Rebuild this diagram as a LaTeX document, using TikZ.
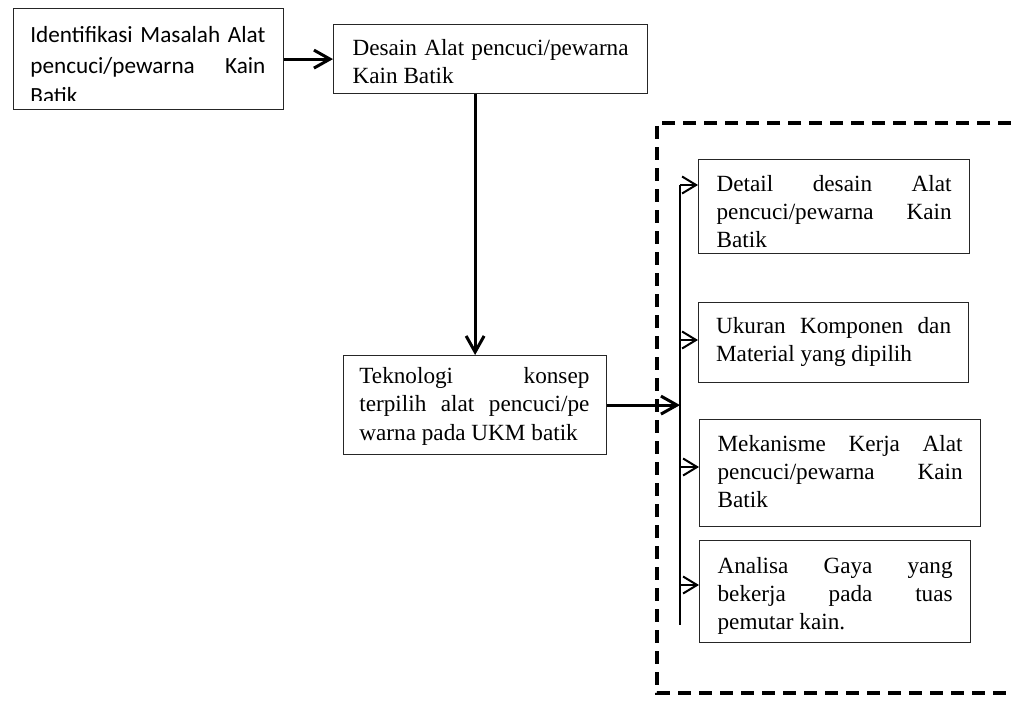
\documentclass[tikz,border=0pt]{standalone}
\usepackage{fontspec}
\setmainfont{Liberation Serif}
\newfontfamily\calibrifont{Carlito}
\usetikzlibrary{arrows.meta, calc}
\tolerance=10000
\hyphenpenalty=10000

\begin{document}
\begin{tikzpicture}[
  x=0.5pt, y=-0.5pt,
  box/.style={draw=black!85, line width=0.6pt, anchor=north west, inner ysep=0pt, inner xsep=9pt, align=justify},
  serif/.style={font=\fontsize{11.6}{14}\selectfont},
  serifloose/.style={font=\fontsize{11.6}{14.25}\selectfont},
  sans/.style={font=\calibrifont\fontsize{11.6}{15.25}\selectfont},
  mainarrow/.style={-{Straight Barb[length=8pt, width=9pt]}, line width=1.5pt},
  taparrow/.style={-{Straight Barb[length=7pt, width=8.5pt]}, line width=1pt},
  frame/.style={line width=2pt, dash pattern=on 6.5pt off 4pt}
]
  \useasboundingbox (0,0) rectangle (1011,701);

  % left column
  \node[box, minimum width=135pt, minimum height=50.5pt] (ident) at (13,8) {};
  \begin{scope}
    \clip (ident.north west) rectangle ($(ident.south east)+(0,-10)$);
    \node[sans, text width=117.5pt, align=justify, inner sep=0pt, anchor=base west] (identtext)
      at ($(ident.north west)+(17,35)$) {Identifikasi Masalah Alat\linebreak pencuci/pewarna Kain\linebreak Batik};
  \end{scope}

  \node[box, serif, text width=138pt, inner xsep=9.5pt, text height=15.5pt, text depth=19pt] (desain) at (333,24)
    {Desain Alat pencuci/pewarna\linebreak Kain Batik};

  \node[box, minimum width=131.5pt, minimum height=49.5pt] (tekno) at (343,355) {};
  \begin{scope}
    \clip (tekno.north west) rectangle ($(tekno.south east)+(0,-9)$);
    \node[serifloose, text width=115pt, align=justify, inner sep=0pt, anchor=base west] (teknotext)
      at ($(tekno.north west)+(16,28)$) {Teknologi konsep\linebreak terpilih alat pencuci/pe\linebreak warna pada UKM batik};
  \end{scope}

  % right column
  \node[box, serif, text width=117.5pt, text height=16pt, text depth=31pt] (detail) at (698,159)
    {Detail desain Alat\linebreak pencuci/pewarna Kain\linebreak Batik};
  \node[box, serif, text width=117.5pt, inner xsep=8.75pt, text height=15.5pt, text depth=24.5pt] (ukuran) at (698,302)
    {Ukuran Komponen dan\linebreak Material yang dipilih};
  \node[box, serif, text width=122.5pt, text height=16pt, text depth=37.5pt] (mekanisme) at (699,419)
    {Mekanisme Kerja Alat\linebreak pencuci/pewarna Kain\linebreak Batik};
  \node[box, serif, text width=117.5pt, text height=16.5pt, text depth=34.5pt] (analisa) at (699,540)
    {Analisa Gaya yang\linebreak bekerja pada tuas\linebreak pemutar kain.};

  % dashed frame, open to the right
  \draw[frame] (1011,123) -| (657,693) -- (1011,693);

  % connectors
  \draw[mainarrow] (ident.east) -- (desain.west);
  \draw[mainarrow] (tekno.north |- desain.south) -- (tekno.north);

  \coordinate (bustop) at (680,185);
  \coordinate (busbot) at (680,625);
  \draw[line width=1pt] (bustop) -- (busbot);
  \draw[mainarrow] (tekno.east) -- (tekno.east -| bustop);

  \foreach \y/\target in {185/detail, 340/ukuran, 467/mekanisme, 585/analisa} {
    \coordinate (tap) at (680,\y);
    \draw[taparrow] (tap) -- (tap -| \target.west);
  }
\end{tikzpicture}
\end{document}
